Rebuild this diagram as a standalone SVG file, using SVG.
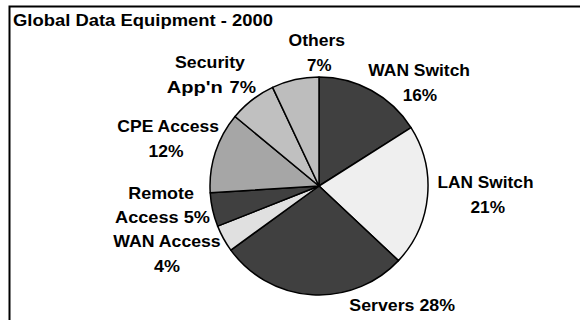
<svg xmlns="http://www.w3.org/2000/svg" width="580" height="320" viewBox="0 0 580 320">
  <style>
    .lbl { font-family: "Liberation Sans", Arial, sans-serif; font-weight: bold; font-size: 16.5px; fill: #000; }
    .slice { stroke: #000; stroke-width: 1.5; stroke-linejoin: round; }
    .dark { fill: #404040; }
  </style>
  <rect x="0" y="0" width="580" height="320" fill="#fff"/>
  <path d="M9.5,320 V6.5 H580" fill="none" stroke="#000" stroke-width="2"/>
  <g id="title">
    <text class="lbl" x="13" y="26" textLength="260" lengthAdjust="spacingAndGlyphs">Global Data Equipment - 2000</text>
  </g>
  <g id="wan-switch">
    <path class="slice dark" d="M319,186 L319,77 A109,109 0 0 1 411.03,127.59 Z"/>
    <text class="lbl" x="368.3" y="76" textLength="101.7" lengthAdjust="spacingAndGlyphs">WAN Switch</text>
    <text class="lbl" x="402.7" y="101" textLength="34.5" lengthAdjust="spacingAndGlyphs">16%</text>
  </g>
  <g id="lan-switch">
    <path class="slice" fill="#efefef" d="M319,186 L411.03,127.59 A109,109 0 0 1 398.46,260.62 Z"/>
    <text class="lbl" x="437.5" y="188" textLength="96" lengthAdjust="spacingAndGlyphs">LAN Switch</text>
    <text class="lbl" x="470.5" y="212.7" textLength="34.5" lengthAdjust="spacingAndGlyphs">21%</text>
  </g>
  <g id="servers">
    <path class="slice dark" d="M319,186 L398.46,260.62 A109,109 0 0 1 230.82,250.07 Z"/>
    <text class="lbl" x="349.3" y="310.7" textLength="105.7" lengthAdjust="spacingAndGlyphs">Servers 28%</text>
  </g>
  <g id="wan-access">
    <path class="slice" fill="#e0e0e0" d="M319,186 L230.82,250.07 A109,109 0 0 1 217.65,226.13 Z"/>
    <text class="lbl" x="113.3" y="247.3" textLength="107.4" lengthAdjust="spacingAndGlyphs">WAN Access</text>
    <text class="lbl" x="154" y="271.7" textLength="26" lengthAdjust="spacingAndGlyphs">4%</text>
  </g>
  <g id="remote-access">
    <path class="slice dark" d="M319,186 L217.65,226.13 A109,109 0 0 1 210.21,192.84 Z"/>
    <text class="lbl" x="128.3" y="199" textLength="65.7" lengthAdjust="spacingAndGlyphs">Remote</text>
    <text class="lbl" x="115" y="222.7" textLength="95" lengthAdjust="spacingAndGlyphs">Access 5%</text>
  </g>
  <g id="cpe-access">
    <path class="slice" fill="#a6a6a6" d="M319,186 L210.21,192.84 A109,109 0 0 1 235.01,116.52 Z"/>
    <text class="lbl" x="117.3" y="131.7" textLength="101.7" lengthAdjust="spacingAndGlyphs">CPE Access</text>
    <text class="lbl" x="148.5" y="156.7" textLength="35" lengthAdjust="spacingAndGlyphs">12%</text>
  </g>
  <g id="security">
    <path class="slice" fill="#c0c0c0" d="M319,186 L235.01,116.52 A109,109 0 0 1 272.59,87.37 Z"/>
    <text class="lbl" x="175" y="68.3" textLength="70" lengthAdjust="spacingAndGlyphs">Security</text>
    <text class="lbl" x="166.7" y="93.3" textLength="56" lengthAdjust="spacingAndGlyphs">App'n</text>
    <text class="lbl" x="229.5" y="93.3" textLength="26.5" lengthAdjust="spacingAndGlyphs">7%</text>
  </g>
  <g id="others">
    <path class="slice" fill="#bdbdbd" d="M319,186 L272.59,87.37 A109,109 0 0 1 319,77 Z"/>
    <text class="lbl" x="288.5" y="45.5" textLength="56.5" lengthAdjust="spacingAndGlyphs">Others</text>
    <text class="lbl" x="307" y="70.5" textLength="24.5" lengthAdjust="spacingAndGlyphs">7%</text>
  </g>
  <g id="connectors"></g>
</svg>
